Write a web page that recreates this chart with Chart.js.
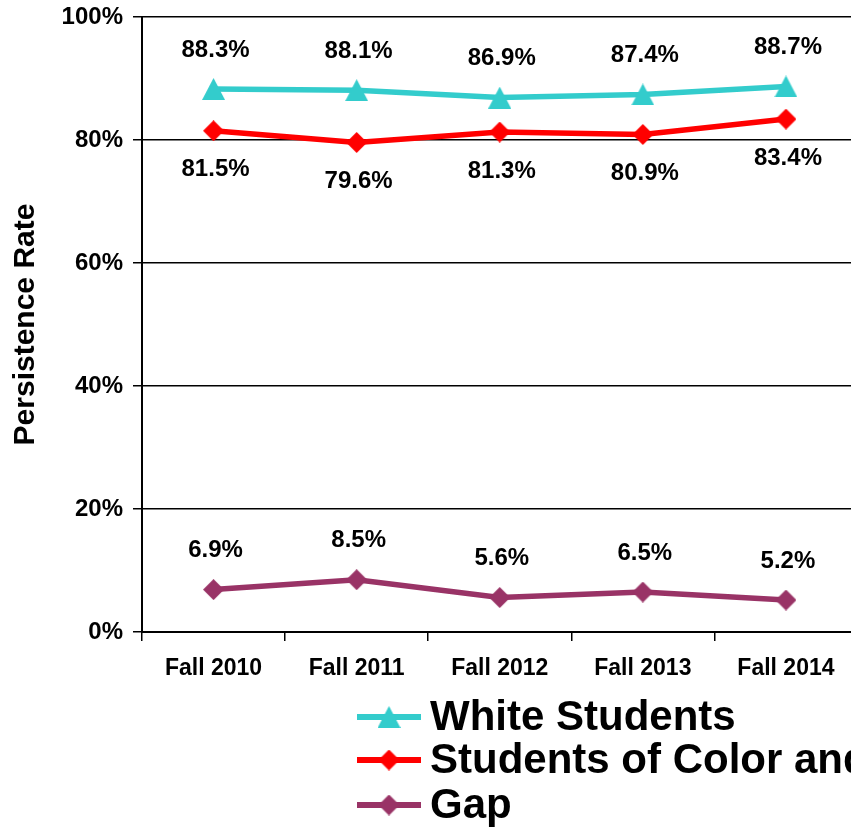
<!DOCTYPE html>
<html>
<head>
<meta charset="utf-8">
<title>Persistence Rate</title>
<script src="https://cdn.jsdelivr.net/npm/chart.js@4.4.1/dist/chart.umd.min.js"></script>
<style>
  html, body { margin: 0; padding: 0; background: #fff; overflow: hidden; }
  canvas { display: block; }
</style>
</head>
<body>
<canvas id="persistence" width="874" height="827"></canvas>
<script>
// Fall cohorts
const terms = ['Fall 2010', 'Fall 2011', 'Fall 2012', 'Fall 2013', 'Fall 2014'];

// Persistence rates (%)
const whiteStudents = [88.3, 88.1, 86.9, 87.4, 88.7];
const studentsOfColor = [81.5, 79.6, 81.3, 80.9, 83.4];
const gap = [6.9, 8.5, 5.6, 6.5, 5.2];

const yTicks = [0, 20, 40, 60, 80, 100];

const FONT = '"Liberation Sans", Arial, Helvetica, sans-serif';

// Marker shapes drawn once into small canvases so they sit centred on the point
const makeTriangle = (color, w, h) => {
  const c = document.createElement('canvas');
  c.width = w; c.height = h;
  const ctx = c.getContext('2d');
  ctx.fillStyle = color;
  ctx.beginPath();
  ctx.moveTo(w / 2, 0);
  ctx.lineTo(w, h);
  ctx.lineTo(0, h);
  ctx.closePath();
  ctx.fill();
  return c;
};

const makeDiamond = (color, w, h) => {
  const c = document.createElement('canvas');
  c.width = w; c.height = h;
  const ctx = c.getContext('2d');
  ctx.fillStyle = color;
  ctx.beginPath();
  ctx.moveTo(w / 2, 0);
  ctx.lineTo(w, h / 2);
  ctx.lineTo(w / 2, h);
  ctx.lineTo(0, h / 2);
  ctx.closePath();
  ctx.fill();
  return c;
};

const series = [
  {label: 'White Students', data: whiteStudents, color: '#33CCCC', marker: makeTriangle('#33CCCC', 23, 22), labelOffset: -39},
  {label: 'Students of Color and', data: studentsOfColor, color: '#FF0000', marker: makeDiamond('#FF0000', 21, 21), labelOffset: 39},
  {label: 'Gap', data: gap, color: '#993366', marker: makeDiamond('#993366', 21, 21), labelOffset: -39}
];

// Value labels above / below each point
const valueLabels = {
  id: 'valueLabels',
  afterDatasetsDraw(chart) {
    const ctx = chart.ctx;
    ctx.save();
    ctx.font = 'bold 24px ' + FONT;
    ctx.fillStyle = '#000';
    ctx.textAlign = 'center';
    ctx.textBaseline = 'middle';
    chart.data.datasets.forEach((ds, i) => {
      const meta = chart.getDatasetMeta(i);
      meta.data.forEach((pt, j) => {
        ctx.fillText(ds.data[j].toFixed(1) + '%', pt.x + 2, pt.y + series[i].labelOffset);
      });
    });
    ctx.restore();
  }
};

// Legend rows under the axis: line sample with marker, then name
const lineLegend = {
  id: 'lineLegend',
  afterDraw(chart) {
    const ctx = chart.ctx;
    const rows = [717, 760, 805];
    ctx.save();
    ctx.font = 'bold 42px ' + FONT;
    ctx.textAlign = 'left';
    ctx.textBaseline = 'middle';
    series.forEach((s, i) => {
      const y = rows[i];
      ctx.strokeStyle = s.color;
      ctx.lineWidth = 6;
      ctx.beginPath();
      ctx.moveTo(357, y);
      ctx.lineTo(421, y);
      ctx.stroke();
      const m = s.marker;
      ctx.drawImage(m, 389 - m.width / 2, y - m.height / 2);
      ctx.fillStyle = '#000';
      ctx.fillText(s.label, 430, y + 1);
    });
    ctx.restore();
  }
};

const datasets = series.map(s => ({
  label: s.label,
  data: s.data,
  borderColor: s.color,
  backgroundColor: s.color,
  borderWidth: 5.5,
  pointStyle: s.marker,
  pointRadius: 11,
  pointHoverRadius: 11,
  tension: 0,
  fill: false
}));

new Chart(document.getElementById('persistence'), {
  type: 'line',
  data: {labels: terms, datasets: datasets},
  options: {
    responsive: false,
    animation: false,
    devicePixelRatio: 1,
    layout: {
      padding: {top: 17, right: 3, bottom: 140, left: 0}
    },
    plugins: {
      legend: {display: false},
      tooltip: {enabled: false}
    },
    scales: {
      x: {
        type: 'category',
        offset: true,
        afterFit: scale => {
          scale.height = 55;
          scale.paddingLeft = 0;
          scale.paddingRight = 0;
        },
        grid: {
          offset: true,
          drawOnChartArea: false,
          drawTicks: true,
          tickLength: 9,
          color: '#000',
          lineWidth: 1.5
        },
        border: {display: true, color: '#000', width: 2},
        ticks: {
          color: '#000',
          padding: 14,
          maxRotation: 0,
          font: {family: FONT, size: 23, weight: 'bold'}
        }
      },
      y: {
        min: yTicks[0],
        max: yTicks[yTicks.length - 1],
        afterFit: scale => {
          scale.width = 142;
          scale.paddingTop = 0;
          scale.paddingBottom = 0;
        },
        afterBuildTicks: scale => { scale.ticks = yTicks.map(v => ({value: v})); },
        grid: {
          color: '#000',
          lineWidth: 1.5,
          tickLength: 9,
          drawTicks: true
        },
        border: {display: true, color: '#000', width: 2},
        ticks: {
          color: '#000',
          padding: 10,
          font: {family: FONT, size: 24, weight: 'bold'},
          callback: v => v + '%'
        },
        title: {
          display: true,
          text: 'Persistence Rate',
          color: '#000',
          padding: {top: 8, bottom: 0},
          font: {family: FONT, size: 30, weight: 'bold'}
        }
      }
    }
  },
  plugins: [valueLabels, lineLegend]
});
</script>
</body>
</html>
